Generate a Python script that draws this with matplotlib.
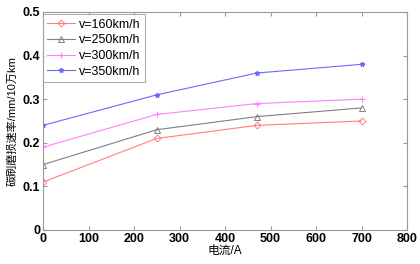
import matplotlib.pyplot as plt

current = [0, 250, 470, 700]
labels = ['v=160km/h', 'v=250km/h', 'v=300km/h', 'v=350km/h']
v160 = [0.11, 0.21, 0.24, 0.25]
v250 = [0.15, 0.23, 0.26, 0.28]
v300 = [0.19, 0.265, 0.29, 0.30]
v350 = [0.24, 0.31, 0.36, 0.38]

plt.rcParams['font.family'] = ['Liberation Sans', 'Noto Sans CJK SC']

fig = plt.figure(figsize=(4.2, 2.64), dpi=100)
ax = fig.add_axes([43 / 420, 34 / 264, 364 / 420, 218 / 264])

ax.plot(current, v160, color='#ff7f7f', marker='D', markersize=3.5, mfc='none', mew=0.7, lw=0.8, label=labels[0])
ax.plot(current, v250, color='#808080', marker='^', markersize=4, mfc='none', mew=0.7, lw=0.8, label=labels[1])
ax.plot(current, v300, color='#ff7fff', marker='+', markersize=5, mew=0.8, lw=0.8, label=labels[2])
ax.plot(current, v350, color='#6a6aff', marker='*', markersize=3.5, lw=0.8, label=labels[3])

ax.set_xlim(0, 800)
ax.set_ylim(0, 0.5)
ax.set_xticks(range(0, 801, 100))
ax.set_yticks([0, 0.1, 0.2, 0.3, 0.4, 0.5])
ax.set_yticklabels(['0', '0.1', '0.2', '0.3', '0.4', '0.5'])
ax.tick_params(direction='in', top=True, right=True, length=3, color='#999999',
               labelsize=9, pad=2)
for t in ax.get_xticklabels() + ax.get_yticklabels():
    t.set_fontweight('bold')
for s in ax.spines.values():
    s.set_color('#999999')

ax.set_xlabel('电流/A', fontsize=8.5, labelpad=0)
ax.set_ylabel('碳刷磨损速率/mm/10万km', fontsize=8, labelpad=4)

leg = ax.legend(loc='upper left', fontsize=9, frameon=True, fancybox=False,
                edgecolor='#999999', borderaxespad=0, bbox_to_anchor=(0, 0.99),
                handlelength=2.2, handletextpad=0.3,
                labelspacing=0.3, borderpad=0.35)
leg.get_frame().set_linewidth(0.8)

fig.savefig('out.png', dpi=100)
